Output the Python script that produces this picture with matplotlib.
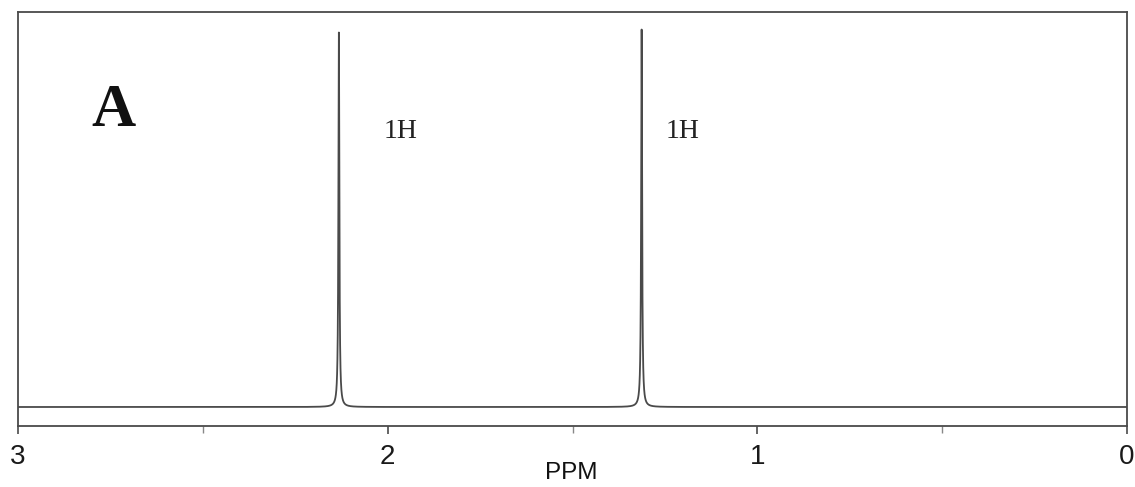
import numpy as np
import matplotlib
matplotlib.use("Agg")
import matplotlib.pyplot as plt
from matplotlib.ticker import FixedLocator

# Data: peak positions (ppm), relative heights, half-widths (ppm)
peak_ppm = [2.132, 1.313]
peak_height = [0.992, 1.0]
peak_hwhm = [0.0015, 0.0015]
peak_labels = ["1H", "1H"]
major_ticks = [3, 2, 1, 0]
major_labels = ["3", "2", "1", "0"]
minor_ticks = [2.5, 1.5, 0.5]

W, H = 1135, 487
fig = plt.figure(figsize=(W / 100, H / 100), dpi=100)

def fx(px):
    return px / W

def fy(py):
    return 1 - py / H

left, right, top, bottom = 18, 1127, 12, 425.5
ax = fig.add_axes([fx(left), fy(bottom), (right - left) / W, (bottom - top) / H])

x = np.linspace(3, 0, 40000)
y = np.zeros_like(x)
for p, h, w in zip(peak_ppm, peak_height, peak_hwhm):
    y += h * w**2 / ((x - p) ** 2 + w**2)

col = "#4a4a4a"
ax.plot(x, y, color=col, lw=1.3)
ax.set_xlim(3, 0)
# baseline at y=407, peak top at y=29.5 px
scale = 407 - 29.5
ax.set_ylim(-(bottom - 407) / scale, (407 - top) / scale)

for s in ax.spines.values():
    s.set_color(col)
    s.set_linewidth(1.3)

ax.xaxis.set_major_locator(FixedLocator(major_ticks))
ax.set_xticklabels(major_labels)
ax.xaxis.set_minor_locator(FixedLocator(minor_ticks))
ax.tick_params(axis="x", which="major", length=6, width=1.2, color=col,
               pad=7, labelsize=20, labelcolor="#1a1a1a")
ax.tick_params(axis="x", which="minor", length=5, width=1.0, color="#888888")
ax.set_yticks([])
for lbl in ax.get_xticklabels():
    lbl.set_family("Liberation Sans")

fig.text(fx(113.5), fy(111), "A", fontsize=44, fontweight="bold",
         family="Liberation Serif", ha="center", va="center", color="#111111")
for px, lab in zip([400.5, 683], peak_labels):
    fig.text(fx(px), fy(131), lab, fontsize=20, family="Liberation Serif",
             ha="center", va="center", color="#222222")

fig.text(fx(571), fy(473), "PPM", fontsize=17.5, family="Liberation Sans",
         ha="center", va="center", color="#111111")

fig.savefig("out.png", dpi=100)
